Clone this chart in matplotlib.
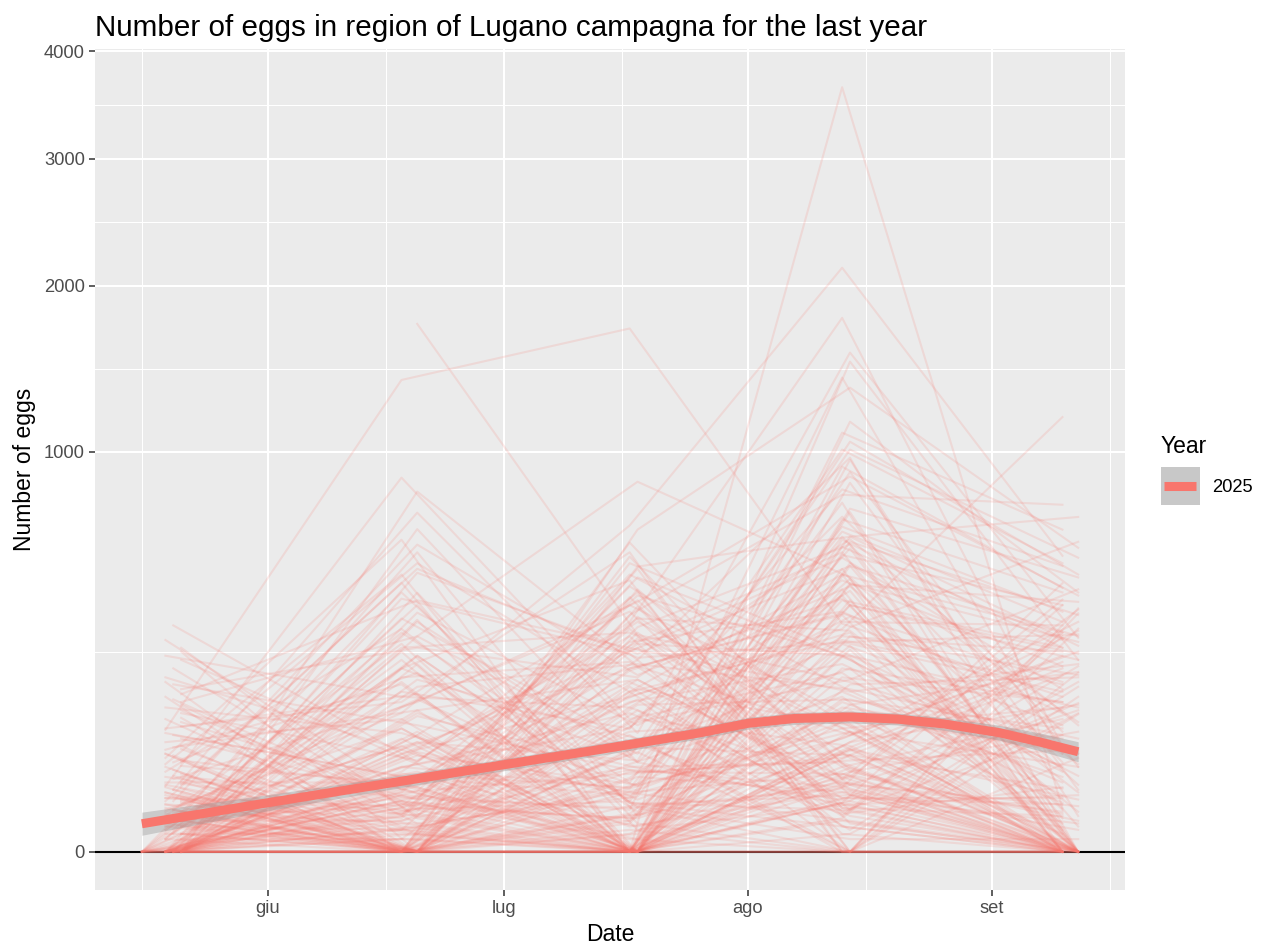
import matplotlib
matplotlib.use("Agg")
import matplotlib.pyplot as plt
import matplotlib.dates as mdates
from matplotlib.lines import Line2D
from matplotlib.patches import Patch, Rectangle
import numpy as np

# egg counts per trap, one array per sampling round
# traps are ordered by their sampling schedule (see schedule_counts)
schedule_dates = [
	["2025-05-16", "2025-06-18", "2025-07-17", "2025-08-13", "2025-09-10"],
	["2025-05-19", "2025-06-18", "2025-07-17", "2025-08-13", "2025-09-10"],
	["2025-05-20", "2025-06-20", "2025-07-18", "2025-08-14", "2025-09-12"],
	["2025-05-21", "2025-06-20", "2025-07-18", "2025-08-14", "2025-09-12"],
	["2025-05-19", "2025-06-18", "2025-07-17", "2025-08-13", "2025-09-10"],
	["2025-05-21", "2025-06-20", "2025-07-18", "2025-08-14", "2025-09-12"],
]
schedule_counts = [20, 55, 35, 50, 20, 20]

nan = float("nan")

eggs_may = [
	0, 0, 0, 0, 0, 0, 0, 0, 0, 0,
	0, 0, 0, 0, 0, 0, 0, 0, 0, 0,
	93, 0, 10, 0, 0, 4, 45, 0, 18, 88,
	150, 0, 2, 27, 0, 60, 7, 35, 0, 12,
	110, 0, 26, 1, 0, 14, 5, 240, 0, 48,
	9, 130, 0, 30, 3, 0, 18, 55, 1, 0,
	75, 20, 0, 6, 8, 0, 190, 22, 0, 65,
	4, 0, 16, 280, 0, 0, 33, 11, 0, 6,
	58, 0, 210, 16, 0, 85, 2, 0, 10, 175,
	0, 42, 3, 0, 24, 68, 0, 24, 0, 320,
	50, 0, 11, 9, 0, 36, 0, 145, 19, 0,
	nan, 25, 0, 80, 13, 0, 165, 4, 0, 6,
	105, 0, 38, 0, 260, 15, 0, 7, 2, 0,
	125, 31, 0, 52, 9, 0, 1, 0, 21, 98,
	0, 46, 0, 135, 4, 0, 28, 17, 0, 230,
	0, 5, 29, 0, 112, 0, 8, 66, 0, 155,
	0, 14, 3, 0, 40, 0, 7, 95, 0, 22,
	1, 0, 60, 11, 0, 180, 5, 0, 28, 0,
	0, 9, 120, 0, 2, 35, 0, 70, 0, 16,
	250, 0, 4, 0, 50, 19, 0, 140, 6, 0,
]
eggs_jun = [
	12, 0, 230, 3, 45, 0, 80, 8, 0, 160,
	25, 0, 420, 6, 0, 95, 14, 0, 300, 1,
	1390, 5, 120, 40, 60, 18, 0, 250, 9, 35,
	0, 130, 2, 874, 22, 0, 70, 11, 190, 0,
	4, 55, 0, 340, 28, 7, 0, 150, 16, 480,
	0, 88, 3, 30, 210, 0, 13, 608, 0, 44,
	110, 0, 20, 6, 270, 1, 65, 0, 38, 175,
	0, 10, 452, 24, 0, 2, 140, 0, 357, 15,
	0, 58, 8, 589, 0, 33, 240, 0, 5, 100,
	19, 0, 380, 27, 0, 125, 4, 718, 0, 50,
	200, 9, 0, 75, 31, 0, 290, 12, 0, 486,
	1740, 0, 36, 17, 145, 0, 260, 3, 90, 0,
	21, 336, 0, 62, 7, 0, 185, 40, 0, 810,
	11, 0, 115, 26, 0, 419, 1, 68, 0, 155,
	0, 29, 220, 5, 0, 85, 500, 0, 14, 48,
	330, 0, 8, 120, 0, 23, 560, 2, 0, 395,
	65, 0, 180, 22, 310, 9, 0, 140, 45, 0,
	260, 16, 0, 95, 400, 0, 30, 210, 3, 0,
	125, 0, 52, 650, 0, 18, 240, 0, 85, 2,
	0, 170, 36, 0, 520, 10, 0, 290, 0, 75,
]
eggs_jul = [
	140, 8, 0, 310, 25, 60, 0, 480, 3, 95,
	0, 210, 15, 42, 520, 0, 7, 170, 30, 0,
	1710, 0, 665, 330, 150, 12, 250, 0, 85, 20,
	5, 360, 0, 110, 38, 597, 0, 16, 225, 48,
	0, 290, 9, 75, 0, 440, 22, 130, 1, 0,
	405, 18, 0, 180, 56, 2, 275, 0, 34, 120,
	0, 544, 11, 90, 0, 205, 4, 350, 26, 0,
	160, 45, 0, 265, 6, 0, 390, 14, 100, 0,
	648, 28, 0, 195, 70, 0, 13, 315, 0, 40,
	230, 0, 3, 155, 508, 0, 24, 88, 0, 420,
	10, 0, 285, 52, 0, 125, 855, 7, 0, 245,
	294, 35, 0, 470, 17, 0, 190, 62, 0, 300,
	1, 0, 135, 21, 0, 375, 80, 0, 9, 215,
	0, 430, 44, 0, 165, 5, 0, 260, 29, 0,
	105, 340, 0, 19, 68, 0, 235, 2, 145, 0,
	50, 0, 185, 27, 0, 410, 8, 0, 115, 255,
	210, 40, 0, 380, 15, 160, 0, 560, 95, 0,
	300, 6, 130, 0, 245, 72, 0, 460, 25, 0,
	185, 0, 330, 50, 0, 270, 12, 0, 395, 110,
	0, 220, 4, 0, 150, 500, 0, 60, 345, 0,
]
eggs_aug = [
	220, 30, 608, 12, 95, 410, 15, 170, 0, 701,
	60, 350, 4, 26, 250, 480, 120, 8, 761, 45,
	325, 3650, 2130, 1780, 310, 25, 540, 140, 0, 80,
	430, 10, 1097, 200, 55, 48, 330, 620, 18, 150,
	926, 2, 270, 9, 580, 105, 38, 460, 0, 190,
	12, 660, 240, 35, 1010, 70, 360, 6, 290, 18,
	500, 33, 1404, 110, 64, 400, 22, 796, 160, 0,
	280, 50, 7, 560, 130, 90, 879, 20, 345, 0,
	1345, 90, 28, 440, 210, 0, 1, 590, 175, 52,
	970, 35, 14, 300, 620, 75, 125, 1556, 40, 0,
	380, 255, 40, 1050, 16, 3, 470, 65, 0, 510,
	180, 22, 1155, 230, 110, 75, 610, 0, 315, 28,
	30, 1500, 145, 6, 445, 5, 0, 960, 265, 85,
	520, 42, 16, 850, 100, 0, 395, 11, 900, 58,
	185, 305, 44, 620, 58, 2, 275, 720, 0, 135,
	465, 19, 24, 575, 0, 235, 85, 66, 425, 160,
	355, 38, 690, 120, 11, 480, 60, 0, 820, 210,
	95, 395, 30, 550, 4, 275, 145, 0, 640, 15,
	25, 510, 90, 13, 735, 240, 0, 380, 20, 70,
	600, 165, 36, 450, 8, 0, 290, 1010, 55, 115,
]
eggs_sep = [
	45, 0, 260, 8, 130, 0, 380, 20, 0, 90,
	210, 3, 0, 450, 60, 0, 15, 300, 0, 110,
	150, 12, 547, 69, 1180, 0, 165, 35, 0, 240,
	0, 85, 648, 5, 195, 0, 320, 50, 14, 0,
	435, 0, 100, 26, 280, 0, 9, 215, 0, 140,
	0, 360, 40, 0, 520, 2, 120, 0, 250, 18,
	0, 397, 60, 0, 225, 11, 0, 752, 30, 0,
	175, 0, 290, 7, 80, 0, 410, 0, 22, 200,
	577, 0, 125, 48, 0, 311, 1, 0, 190, 65,
	0, 366, 20, 0, 700, 135, 0, 286, 6, 0,
	245, 0, 90, 480, 0, 170, 28, 0, 118, 4,
	60, 0, 420, 36, 0, 305, 100, 0, 600, 13,
	0, 230, 62, 0, 390, 0, 150, 8, 0, 330,
	105, 0, 215, 24, 0, 370, 0, 180, 45, 0,
	430, 10, 0, 265, 0, 120, 295, 0, 55, 202,
	0, 138, 3, 0, 355, 0, 250, 17, 0, 220,
	180, 0, 420, 65, 0, 300, 25, 0, 510, 140,
	0, 260, 10, 380, 0, 160, 95, 0, 330, 0,
	0, 290, 45, 0, 470, 130, 0, 230, 5, 0,
	350, 80, 0, 275, 0, 0, 195, 540, 0, 60,
]

# smoothed trend and its confidence band
smooth_dates = ["2025-05-16", "2025-06-01", "2025-06-16", "2025-07-01", "2025-07-13", "2025-07-26",
	"2025-08-01", "2025-08-07", "2025-08-14", "2025-08-20", "2025-08-26", "2025-09-02",
	"2025-09-07", "2025-09-12"]
smooth_eggs = [4.9, 15.0, 28.9, 47.3, 65.0, 88.5, 103.0, 111.0, 113.5, 110.0, 102.0, 88.5, 75.6, 62.5]
smooth_low = [1.7, 10.5, 23.7, 41.0, 57.7, 79.9, 93.7, 101.4, 103.7, 100.4, 92.2, 77.7, 64.0, 50.6]
smooth_high = [9.8, 20.3, 34.6, 54.0, 72.8, 97.6, 112.8, 121.2, 123.7, 120.1, 112.4, 99.9, 88.4, 75.6]

year_label = "2025"
month_names = ["gen", "feb", "mar", "apr", "mag", "giu", "lug", "ago", "set", "ott", "nov", "dic"]
y_breaks = [0, 1000, 2000, 3000, 4000]

SALMON = "#F8766D"
PANEL = "#EBEBEB"
KEY_FILL = "#C8C8C8"

plt.rcParams['font.family'] = ['Liberation Sans', 'DejaVu Sans']


def sqrt_fwd(v):
	v = np.asarray(v, dtype=float)
	return np.sign(v) * np.sqrt(np.abs(v))


def sqrt_inv(v):
	v = np.asarray(v, dtype=float)
	return np.sign(v) * v ** 2


def month_label(x, pos=None):
	return month_names[mdates.num2date(x).month - 1]


class SmoothKey:
	# grey band with the trend line centred on it, like the ggplot key
	def legend_artist(self, legend, orig_handle, fontsize, handlebox):
		x0, y0 = -handlebox.xdescent, -handlebox.ydescent
		w, h = handlebox.width, handlebox.height
		rect = Rectangle((x0, y0), w, h, facecolor=KEY_FILL, edgecolor="none",
			transform=handlebox.get_transform())
		line = Line2D([x0 + 0.09 * w, x0 + 0.91 * w], [y0 + h / 2, y0 + h / 2], color=SALMON,
			lw=6.5, solid_capstyle="butt", transform=handlebox.get_transform())
		handlebox.add_artist(rect)
		handlebox.add_artist(line)
		return rect


def main():
	fig = plt.figure(figsize=(12.69, 9.51), dpi=100)
	ax = fig.add_axes([95 / 1269, 1 - 890 / 951, (1125 - 95) / 1269, (890 - 49) / 951])
	ax.set_facecolor(PANEL)
	for s in ax.spines.values():
		s.set_visible(False)

	ax.set_yscale("function", functions=(sqrt_fwd, sqrt_inv))

	rounds = np.array([eggs_may, eggs_jun, eggs_jul, eggs_aug, eggs_sep], dtype=float).T
	sched = np.repeat(np.arange(len(schedule_counts)), schedule_counts)
	sched_num = [mdates.datestr2num(d) for d in schedule_dates]

	# zero reference line underneath the traps
	ax.axhline(0, color="black", lw=1.5, zorder=2)

	for i in range(len(rounds)):
		ax.plot(sched_num[sched[i]], rounds[i], color=SALMON, alpha=0.16, lw=1.5, zorder=3)

	sd = [mdates.datestr2num(d) for d in smooth_dates]
	ax.fill_between(sd, smooth_low, smooth_high, color="#999999", alpha=0.4, lw=0, zorder=4)
	ax.plot(sd, smooth_eggs, color=SALMON, lw=6.5, solid_capstyle="butt", zorder=5)

	# limits with 5% expansion like ggplot
	all_x = np.concatenate(sched_num)
	x0, x1 = all_x.min(), all_x.max()
	ax.set_xlim(x0 - 0.05 * (x1 - x0), x1 + 0.05 * (x1 - x0))
	top = np.sqrt(np.nanmax(rounds))
	ax.set_ylim(sqrt_inv(-0.05 * top), sqrt_inv(1.05 * top))

	ax.xaxis.set_major_locator(mdates.MonthLocator())
	ax.xaxis.set_minor_locator(mdates.MonthLocator(bymonthday=16))
	ax.xaxis.set_major_formatter(plt.FuncFormatter(month_label))
	ax.set_yticks(y_breaks)
	ax.set_yticklabels([str(b) for b in y_breaks])
	sb = np.sqrt(y_breaks)
	ax.set_yticks(((sb[:-1] + sb[1:]) / 2) ** 2, minor=True)

	ax.grid(which="major", color="white", lw=1.5)
	ax.grid(which="minor", color="white", lw=0.75)
	ax.set_axisbelow(True)
	ax.tick_params(which="major", length=4, width=1.1, color="#333333", labelcolor="#4D4D4D",
		labelsize=13.2, pad=3.3)
	ax.tick_params(which="minor", length=0)

	ax.set_xlabel("Date", fontsize=16.5, labelpad=4)
	ax.set_ylabel("Number of eggs", fontsize=16.5, labelpad=6)
	ax.set_title("Number of eggs in region of Lugano campagna for the last year",
		fontsize=21.3, loc="left", pad=9)

	handle = Patch(facecolor=KEY_FILL)
	fig.legend([handle], [year_label], handler_map={Patch: SmoothKey()},
		title="Year", title_fontsize=16.5, fontsize=13.2, frameon=False,
		loc="center left", bbox_to_anchor=(1161 / 1269, 1 - 470 / 951),
		handlelength=2.1, handleheight=2.82, handletextpad=0.7, alignment="left",
		borderaxespad=0, borderpad=0)

	fig.savefig("out.png", dpi=100)
	plt.close(fig)


main()
